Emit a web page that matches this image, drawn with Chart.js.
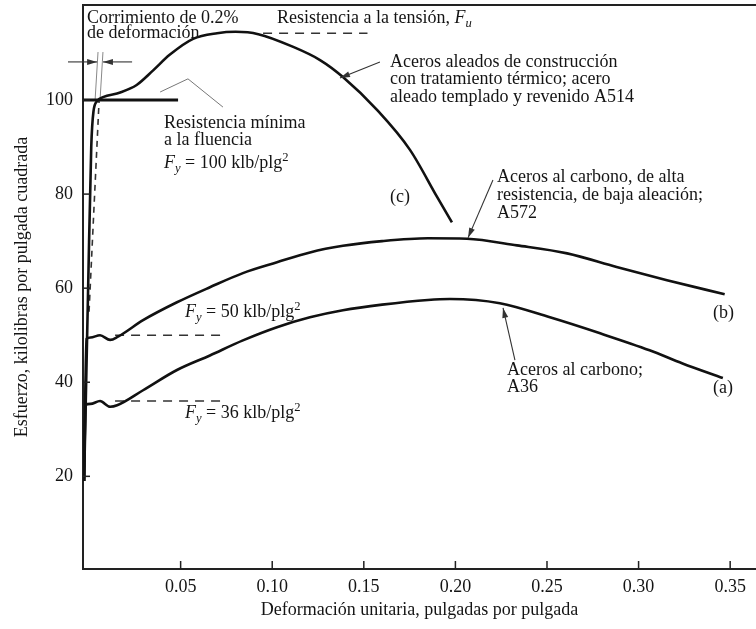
<!DOCTYPE html>
<html>
<head>
<meta charset="utf-8">
<script src="https://cdn.jsdelivr.net/npm/chart.js@4/dist/chart.umd.min.js"></script>
<style>
  html, body { margin: 0; padding: 0; background: #fff; }
</style>
</head>
<body>
<canvas id="chart" width="756" height="629"></canvas>
<script>
// ejes
const xTicks = [0.05, 0.10, 0.15, 0.20, 0.25, 0.30, 0.35];
const yTicks = [20, 40, 60, 80, 100];

// (c) A514 - acero aleado templado y revenido
const strainA514 = [-0.0027, -0.0005, 0.0012, 0.0024, 0.0045, 0.0076, 0.017, 0.026, 0.035, 0.044, 0.0568, 0.0699, 0.08, 0.0924, 0.1114, 0.1261, 0.1386, 0.1572, 0.1752, 0.19, 0.1981];
const stressA514 = [19, 60, 90, 97.5, 99.8, 100.6, 101.6, 103.2, 106.3, 109.6, 113.0, 114.2, 114.5, 114.0, 111.3, 108.5, 104.9, 97.9, 89.4, 79.4, 74.0];

// (b) A572
const strainA572 = [-0.0027, -0.0014, 0.0008, 0.006, 0.0115, 0.0158, 0.0295, 0.048, 0.066, 0.084, 0.1026, 0.1206, 0.1386, 0.16, 0.185, 0.2063, 0.2336, 0.261, 0.288, 0.3155, 0.347];
const stressA572 = [19, 49.2, 49.5, 50.0, 49.0, 49.7, 53.2, 57.0, 60.2, 63.2, 65.5, 67.6, 69.0, 70.0, 70.6, 70.5, 69.1, 67.4, 64.5, 61.7, 58.7];

// (a) A36
const strainA36 = [-0.0027, -0.0019, 0.0008, 0.006, 0.0115, 0.0153, 0.0295, 0.048, 0.066, 0.084, 0.1026, 0.1206, 0.1386, 0.16, 0.185, 0.197, 0.2243, 0.2516, 0.279, 0.306, 0.324, 0.346];
const stressA36 = [19, 35.2, 35.4, 36.0, 34.8, 35.1, 38.3, 42.6, 45.7, 48.9, 51.7, 53.8, 55.3, 56.5, 57.5, 57.7, 56.8, 53.8, 50.4, 46.8, 44.0, 40.9];

// lineas de referencia
const yieldStrain = [-0.0033, 0.0486], yieldStress = [100, 100];
const fuStrain = [0.095, 0.152], fuStress = [114.2, 114.2];
const fy50Strain = [0.0142, 0.072], fy50Stress = [50, 50];
const fy36Strain = [0.0142, 0.072], fy36Stress = [36, 36];
const offsetStrain = [0.0, 0.0055], offsetStress = [55, 100];
const guide1Strain = [0.0033, 0.0049], guide1Stress = [100, 110.2];
const guide2Strain = [0.006, 0.0076], guide2Stress = [100, 110.2];

const SERIF = '"Liberation Serif", "DejaVu Serif", serif';
const INK = '#141414';

const pts = (xs, ys) => xs.map((x, i) => ({ x: x, y: ys[i] }));

function curve(xs, ys, width) {
    return { data: pts(xs, ys), showLine: true, pointRadius: 0, borderColor: '#111', borderWidth: width, cubicInterpolationMode: 'monotone' };
}
function ref(xs, ys, dash, width, color) {
    return { data: pts(xs, ys), showLine: true, pointRadius: 0, borderColor: color || '#333', borderWidth: width, borderDash: dash || [] };
}

// textos: [x, y, partes]
const F = (sub) => [{ t: 'F', i: true }, { t: sub, i: true, s: 'sub' }];
const labels = [
    [-0.0011, 117.4, [{ t: 'Corrimiento de 0.2%' }]],
    [-0.0011, 114.1, [{ t: 'de deformación' }]],
    [0.1026, 117.4, [{ t: 'Resistencia a la tensión, ' }].concat(F('u'))],
    [0.1643, 108.1, [{ t: 'Aceros aleados de construcción' }]],
    [0.1643, 104.4, [{ t: 'con tratamiento térmico; acero' }]],
    [0.1643, 100.6, [{ t: 'aleado templado y revenido A514' }]],
    [0.0409, 95.1, [{ t: 'Resistencia mínima' }]],
    [0.0409, 91.4, [{ t: 'a la fluencia' }]],
    [0.0409, 86.6, F('y').concat([{ t: ' = 100 klb/plg' }, { t: '2', s: 'sup' }])],
    [0.1643, 79.4, [{ t: '(c)' }]],
    [0.2227, 83.6, [{ t: 'Aceros al carbono, de alta' }]],
    [0.2227, 79.8, [{ t: 'resistencia, de baja aleación;' }]],
    [0.2227, 76.0, [{ t: 'A572' }]],
    [0.0524, 54.9, F('y').concat([{ t: ' = 50 klb/plg' }, { t: '2', s: 'sup' }])],
    [0.3406, 54.7, [{ t: '(b)' }]],
    [0.2282, 42.6, [{ t: 'Aceros al carbono;' }]],
    [0.2282, 38.9, [{ t: 'A36' }]],
    [0.3406, 38.7, [{ t: '(a)' }]],
    [0.0524, 33.4, F('y').concat([{ t: ' = 36 klb/plg' }, { t: '2', s: 'sup' }])]
];

// flechas: [x1, y1, x2, y2] punta en (x2, y2)
const arrows = [
    [0.1588, 108.1, 0.137, 104.7],
    [0.2205, 83.0, 0.2069, 70.7],
    [0.2325, 44.7, 0.226, 55.8],
    [-0.0115, 108.1, 0.0044, 108.1],
    [0.0235, 108.1, 0.0076, 108.1]
];
const caret = [[0.0388, 101.7], [0.054, 104.5], [0.0731, 98.5]];

function drawRich(ctx, x, y, parts, size) {
    let cx = x;
    parts.forEach(p => {
        const sz = p.s ? size * 0.7 : size;
        ctx.font = (p.i ? 'italic ' : '') + sz + 'px ' + SERIF;
        const dy = p.s === 'sub' ? size * 0.3 : p.s === 'sup' ? -size * 0.32 : 0;
        ctx.fillText(p.t, cx, y + dy);
        cx += ctx.measureText(p.t).width;
    });
}

const extras = {
    id: 'extras',
    afterDatasetsDraw(chart) {
        const ctx = chart.ctx, xs = chart.scales.x, ys = chart.scales.y, area = chart.chartArea;
        ctx.save();
        // borde superior y marcas hacia dentro
        ctx.strokeStyle = '#222';
        ctx.lineWidth = 2;
        ctx.beginPath();
        ctx.moveTo(area.left, area.top);
        ctx.lineTo(area.right, area.top);
        ctx.stroke();
        ctx.lineWidth = 1.5;
        xTicks.forEach(v => {
            const px = xs.getPixelForValue(v);
            ctx.beginPath(); ctx.moveTo(px, area.bottom); ctx.lineTo(px, area.bottom - 8); ctx.stroke();
        });
        yTicks.forEach(v => {
            const py = ys.getPixelForValue(v);
            ctx.beginPath(); ctx.moveTo(area.left, py); ctx.lineTo(area.left + 7, py); ctx.stroke();
        });

        // flechas
        ctx.strokeStyle = '#333';
        ctx.fillStyle = '#333';
        ctx.lineWidth = 1.1;
        arrows.forEach(a => {
            const x1 = xs.getPixelForValue(a[0]), y1 = ys.getPixelForValue(a[1]);
            const x2 = xs.getPixelForValue(a[2]), y2 = ys.getPixelForValue(a[3]);
            ctx.beginPath(); ctx.moveTo(x1, y1); ctx.lineTo(x2, y2); ctx.stroke();
            const ang = Math.atan2(y2 - y1, x2 - x1);
            ctx.beginPath();
            ctx.moveTo(x2, y2);
            ctx.lineTo(x2 - 10 * Math.cos(ang) + 3 * Math.sin(ang), y2 - 10 * Math.sin(ang) - 3 * Math.cos(ang));
            ctx.lineTo(x2 - 10 * Math.cos(ang) - 3 * Math.sin(ang), y2 - 10 * Math.sin(ang) + 3 * Math.cos(ang));
            ctx.closePath();
            ctx.fill();
        });
        ctx.strokeStyle = '#777';
        ctx.lineWidth = 1;
        ctx.beginPath();
        caret.forEach((c, i) => {
            const px = xs.getPixelForValue(c[0]), py = ys.getPixelForValue(c[1]);
            if (i === 0) ctx.moveTo(px, py); else ctx.lineTo(px, py);
        });
        ctx.stroke();

        // textos
        ctx.fillStyle = INK;
        ctx.textBaseline = 'middle';
        ctx.textAlign = 'left';
        labels.forEach(l => drawRich(ctx, xs.getPixelForValue(l[0]), ys.getPixelForValue(l[1]), l[2], 18));
        ctx.restore();
    }
};

new Chart(document.getElementById('chart'), {
    type: 'scatter',
    data: {
        datasets: [
            curve(strainA514, stressA514, 2.6),
            curve(strainA572, stressA572, 2.6),
            curve(strainA36, stressA36, 2.6),
            ref(yieldStrain, yieldStress, [], 3.2, '#111'),
            ref(fuStrain, fuStress, [9, 7], 1.4),
            ref(fy50Strain, fy50Stress, [9, 7], 1.4),
            ref(fy36Strain, fy36Stress, [9, 7], 1.4),
            ref(offsetStrain, offsetStress, [6, 5], 1.6),
            ref(guide1Strain, guide1Stress, [], 1, '#888'),
            ref(guide2Strain, guide2Stress, [], 1, '#888')
        ]
    },
    options: {
        responsive: false,
        animation: false,
        layout: { padding: { top: 5, right: 0, left: 0, bottom: 0 } },
        plugins: { legend: { display: false }, tooltip: { enabled: false } },
        scales: {
            x: {
                type: 'linear',
                min: -0.0033, max: 0.3641,
                afterBuildTicks: s => { s.ticks = xTicks.map(v => ({ value: v })); },
                afterFit: s => { s.height = 60; s.paddingLeft = 0; s.paddingRight = 0; },
                grid: { display: false, drawTicks: false },
                border: { display: true, color: '#222', width: 2 },
                ticks: { color: INK, padding: 7, font: { family: SERIF, size: 18 }, callback: v => v.toFixed(2), maxRotation: 0 },
                title: { display: true, text: 'Deformación unitaria, pulgadas por pulgada', color: INK, font: { family: SERIF, size: 18 }, padding: { top: 0, bottom: 8 } }
            },
            y: {
                min: 0.3, max: 120.2,
                afterBuildTicks: s => { s.ticks = yTicks.map(v => ({ value: v })); },
                afterFit: s => { s.width = 83; s.paddingTop = 0; s.paddingBottom = 0; },
                grid: { display: false, drawTicks: false },
                border: { display: true, color: '#222', width: 2 },
                ticks: { color: INK, padding: 10, font: { family: SERIF, size: 18 } },
                title: { display: true, text: 'Esfuerzo, kilolibras por pulgada cuadrada', color: INK, font: { family: SERIF, size: 18 }, padding: { top: 11, bottom: 0 } }
            }
        }
    },
    plugins: [extras]
});
</script>
</body>
</html>
